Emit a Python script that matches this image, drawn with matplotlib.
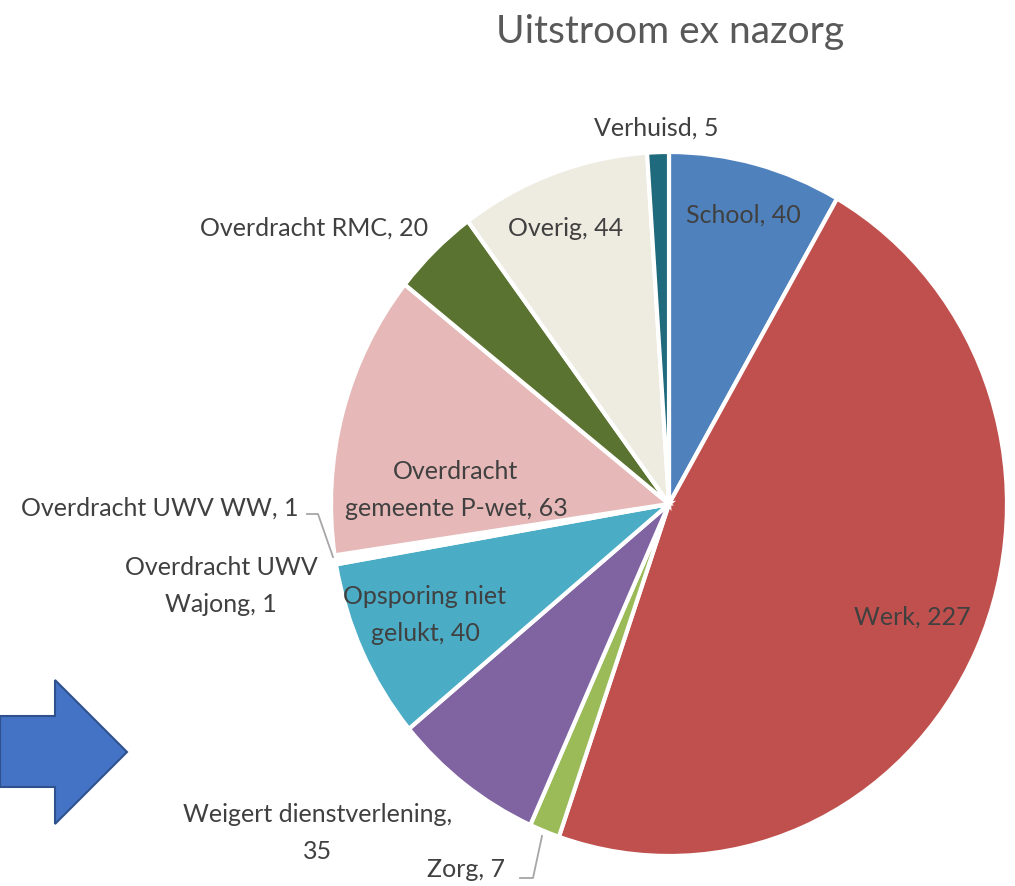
import matplotlib
matplotlib.use("Agg")
import matplotlib.pyplot as plt
from matplotlib.patches import Polygon

# ---- data ----
categories = ["School", "Werk", "Zorg", "Weigert dienstverlening",
              "Opsporing niet gelukt", "Overdracht UWV Wajong",
              "Overdracht UWV WW", "Overdracht gemeente P-wet",
              "Overdracht RMC", "Overig", "Verhuisd"]
values = [40, 227, 7, 35, 40, 1, 1, 63, 20, 44, 5]
label_texts = ["School, 40", "Werk, 227", "Zorg, 7",
               "Weigert dienstverlening,\n35", "Opsporing niet\ngelukt, 40",
               "Overdracht UWV\nWajong, 1", "Overdracht UWV WW, 1",
               "Overdracht\ngemeente P-wet, 63", "Overdracht RMC, 20",
               "Overig, 44", "Verhuisd, 5"]
title = "Uitstroom ex nazorg"

# ---- style ----
colors = ["#4F81BD", "#C0504D", "#9BBB59", "#8064A2", "#4BACC6",
          "#FFFFFF", "#FFFFFF", "#E6B9B8", "#5B7330", "#EEECE1", "#1F6A7D"]
W, H = 1015, 887
plt.rcParams['font.family'] = ['Lato', 'DejaVu Sans']

fig = plt.figure(figsize=(W / 100, H / 100), dpi=100)

# pie axes: bounding box of the (slightly elliptical) pie in pixels
px0, px1, py0, py1 = 331, 1007, 153, 857
pax = fig.add_axes([px0 / W, 1 - py1 / H, (px1 - px0) / W, (py1 - py0) / H])
pax.pie(values, colors=colors, startangle=90, counterclock=False,
        radius=1, wedgeprops=dict(edgecolor="white", linewidth=3.0))
pax.set_aspect("auto")
pax.set_xlim(-1, 1)
pax.set_ylim(-1, 1)
pax.axis("off")

# overlay axes in image pixel coordinates for texts / shapes
ax = fig.add_axes([0, 0, 1, 1])
ax.set_xlim(0, W)
ax.set_ylim(0, H)
ax.axis("off")
ax.patch.set_alpha(0)

def Y(y):
    return H - y

# label positions (image pixel coords)
label_pos = [(743, 215), (912, 617), (466, 870),
             (318, 833), (425, 615), (221, 586),
             (160, 508), (456, 490), (314, 228),
             (566, 228), (656, 128)]
txt_color = "#404040"
for t, (x, y) in zip(label_texts, label_pos):
    ax.text(x, Y(y), t, ha="center", va="center", fontsize=18,
            color=txt_color, linespacing=1.7)

# leader lines
ax.plot([307, 318, 333], [Y(515), Y(515), Y(558)], color="#A6A6A6", lw=1.3)
ax.plot([520, 533, 542], [Y(879), Y(879), Y(837)], color="#A6A6A6", lw=1.3)

# title
ax.text(670, Y(32), title, ha="center", va="center", fontsize=28,
        color="#595959")

# blue arrow shape
arrow = [(0, 717), (55, 717), (55, 681), (127, 753), (55, 825),
         (55, 788), (0, 788)]
ax.add_patch(Polygon([(x, Y(y)) for x, y in arrow], closed=True,
                     facecolor="#4472C4", edgecolor="#2F528F", lw=1.5))

fig.savefig("out.png", dpi=100)
